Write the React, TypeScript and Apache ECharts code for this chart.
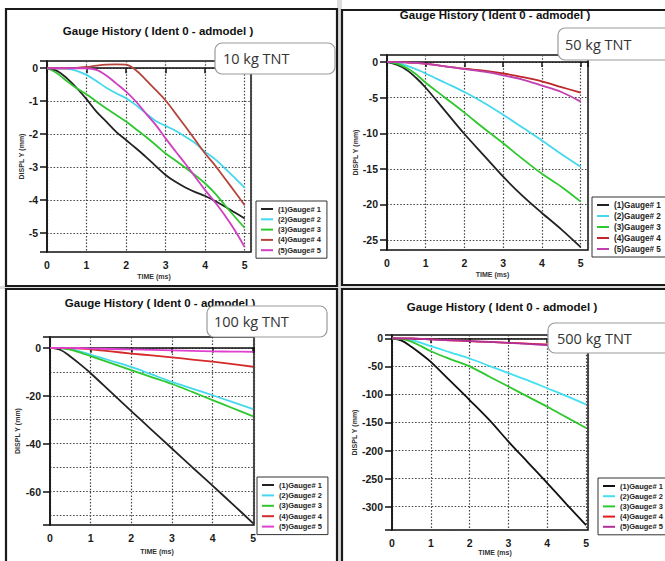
import React, { useEffect, useRef } from 'react';
import * as echarts from 'echarts';

// ---------- data ----------
const TIME_FINE = [0, 0.25, 0.5, 0.75, 1, 1.25, 1.5, 1.75, 2, 2.25, 2.5, 2.75, 3, 3.25, 3.5, 3.75, 4, 4.25, 4.5, 4.75, 5];
const TIME = [0, 0.25, 0.5, 0.75, 1, 1.5, 2, 2.5, 3, 3.5, 4, 4.5, 5];

const GAUGE_NAMES = ['(1)Gauge# 1', '(2)Gauge# 2', '(3)Gauge# 3', '(4)Gauge# 4', '(5)Gauge# 5'];
const TITLE = 'Gauge History ( Ident 0 - admodel )';
const TNT_LABELS = ['10 kg TNT', '50 kg TNT', '100 kg TNT', '500 kg TNT'];
const X_NAME = 'TIME (ms)';
const Y_NAME = 'DISPL Y (mm)';

// 10 kg TNT (TIME_FINE)
const p1g1 = [0, -0.08, -0.3, -0.6, -0.94, -1.32, -1.62, -1.93, -2.18, -2.43, -2.69, -2.97, -3.24, -3.45, -3.62, -3.76, -3.88, -4.03, -4.2, -4.38, -4.56];
const p1g2 = [0, 0, -0.01, -0.08, -0.2, -0.39, -0.59, -0.76, -0.91, -1.12, -1.37, -1.6, -1.75, -1.9, -2.08, -2.28, -2.54, -2.76, -3.04, -3.33, -3.63];
const p1g3 = [0, -0.15, -0.39, -0.61, -0.79, -1.01, -1.22, -1.42, -1.62, -1.85, -2.08, -2.33, -2.59, -2.8, -3.02, -3.25, -3.5, -3.8, -4.16, -4.51, -4.85];
const p1g4 = [0, 0, 0, 0.01, 0.04, 0.08, 0.11, 0.12, 0.11, -0.06, -0.35, -0.66, -0.98, -1.37, -1.77, -2.18, -2.59, -2.95, -3.35, -3.75, -4.16];
const p1g5 = [0, 0, 0, 0, 0, -0.05, -0.22, -0.46, -0.71, -1.01, -1.37, -1.72, -2.13, -2.52, -2.9, -3.3, -3.7, -4.07, -4.47, -4.92, -5.43];

// 50 kg TNT (TIME)
const p2g1 = [0, -0.37, -1.06, -2.2, -3.6, -6.85, -10.1, -13.1, -16.1, -18.8, -21.2, -23.5, -26.0];
const p2g2 = [0, -0.1, -0.5, -1.0, -1.6, -2.9, -4.2, -5.7, -7.4, -9.2, -11.0, -12.9, -14.7];
const p2g3 = [0, -0.2, -0.8, -1.7, -2.9, -5.0, -7.1, -9.3, -11.4, -13.6, -15.7, -17.5, -19.6];
const p2g4 = [0, 0, -0.05, -0.12, -0.23, -0.6, -0.93, -1.2, -1.6, -2.1, -2.7, -3.5, -4.3];
const p2g5 = [0, 0, -0.05, -0.12, -0.25, -0.6, -0.97, -1.35, -1.85, -2.45, -3.3, -4.2, -5.55];

// 100 kg TNT (TIME)
const p3g1 = [0, -0.8, -3.6, -7.0, -10.6, -18.5, -26.4, -34.2, -42.0, -49.8, -57.5, -65.3, -73.2];
const p3g2 = [0, -0.1, -0.6, -1.6, -2.9, -5.4, -8.0, -11.1, -14.2, -17.0, -19.8, -22.7, -25.6];
const p3g3 = [0, -0.1, -0.8, -2.0, -3.5, -6.4, -9.3, -12.2, -15.1, -18.4, -21.8, -25.2, -28.6];
const p3g4 = [0, 0, -0.1, -0.3, -0.6, -1.5, -2.4, -3.2, -4.0, -4.9, -5.8, -6.8, -7.9];
const p3g5 = [0, 0, 0, -0.1, -0.3, -0.5, -0.7, -0.9, -1.1, -1.3, -1.5, -1.6, -1.7];

// 500 kg TNT (TIME)
const p4g1 = [0, -4, -15, -28, -42, -76, -110, -145, -184, -221, -258, -296, -333];
const p4g2 = [0, -0.5, -3, -8, -14, -25, -36, -49, -62, -75, -89, -103, -118];
const p4g3 = [0, -1, -6, -14, -23, -37, -50, -68, -86, -104, -122, -141, -160];
const p4g4 = [0, 0, -0.3, -1, -2, -3.5, -5, -6.5, -8, -9.5, -11, -13, -15];
const p4g5 = [0, 0, -0.3, -1, -2, -3.5, -5, -6.5, -8, -10, -12, -14, -16];

// ---------- styles / layout ----------
const COLORS = [
  ['#222222', '#44d8ee', '#2ec82e', '#b5443c', '#cf3fbf'],
  ['#222222', '#44d8ee', '#2ec82e', '#c02828', '#c040b0'],
  ['#222222', '#44d8ee', '#2ec82e', '#d42a2a', '#e040d0'],
  ['#111111', '#44e0f0', '#2ec82e', '#e01c1c', '#b0309a'],
];

const PANELS = [
  {
    time: TIME_FINE, values: [p1g1, p1g2, p1g3, p1g4, p1g5], tnt: TNT_LABELS[0],
    grid: { left: 47, top: 61, width: 204, height: 191 }, xMax: 5.16, yMin: -5.58, yMax: 0.22, yStep: 1, labelStep: 1,
    yNameGap: 22, xNameGap: 21, legend: { left: 256, top: 201, gap: 2.3, font: 7.5 },
    frame: { x: 6, y: 9, w: 331, h: 277 }, title: { x: 158, y: 31 }, box: { x: 215, y: 43, w: 120, h: 31, tx: 223 },
  },
  {
    time: TIME, values: [p2g1, p2g2, p2g3, p2g4, p2g5], tnt: TNT_LABELS[1],
    grid: { left: 387, top: 55, width: 201, height: 195 }, xMax: 5.19, yMin: -26.4, yMax: 1.0, yStep: 5, labelStep: 5,
    yNameGap: 27, xNameGap: 21, legend: { left: 592, top: 197, gap: 3, font: 8.2 },
    frame: { x: 342, y: 10, w: 340, h: 275 }, title: { x: 495, y: 15 }, box: { x: 558, y: 28, w: 140, h: 32, tx: 565 },
  },
  {
    time: TIME, values: [p3g1, p3g2, p3g3, p3g4, p3g5], tnt: TNT_LABELS[2],
    grid: { left: 50, top: 337, width: 204, height: 188 }, xMax: 5.02, yMin: -73.9, yMax: 4.5, yStep: 10, labelStep: 20,
    yNameGap: 29, xNameGap: 23, legend: { left: 257, top: 477, gap: 2.4, font: 7.5 },
    frame: { x: 6, y: 289, w: 331, h: 290 }, title: { x: 160, y: 303 }, box: { x: 207, y: 306, w: 120, h: 31, tx: 214 },
  },
  {
    time: TIME, values: [p4g1, p4g2, p4g3, p4g4, p4g5], tnt: TNT_LABELS[3],
    grid: { left: 392, top: 335, width: 196, height: 195 }, xMax: 5.05, yMin: -341.7, yMax: 5.9, yStep: 50, labelStep: 50,
    yNameGap: 33, xNameGap: 19, legend: { left: 598, top: 478, gap: 2.2, font: 7.5 },
    frame: { x: 342, y: 289, w: 340, h: 290 }, title: { x: 502, y: 307 }, box: { x: 548, y: 323, w: 150, h: 30, tx: 557 },
  },
];

const AXIS_COLOR = '#111';
const FONT = "'Liberation Sans', Arial, sans-serif";

function isMultiple(v: number, step: number) {
  const r = v / step;
  return Math.abs(r - Math.round(r)) < 1e-6;
}

function buildOption() {
  const grid: any[] = [];
  const xAxis: any[] = [];
  const yAxis: any[] = [];
  const series: any[] = [];
  const legend: any[] = [];
  const graphic: any[] = [];

  // light gray gutters between the four screenshots
  graphic.push({ type: 'rect', shape: { x: 337, y: 0, width: 5, height: 561 }, style: { fill: '#dcdcdc' }, z: 0, silent: true });
  graphic.push({ type: 'rect', shape: { x: 0, y: 286, width: 665, height: 3 }, style: { fill: '#dcdcdc' }, z: 0, silent: true });

  PANELS.forEach((p, i) => {
    grid.push({ ...p.grid, show: true, borderColor: AXIS_COLOR, borderWidth: 1.5, backgroundColor: 'transparent', containLabel: false });

    xAxis.push({
      type: 'value', gridIndex: i, min: 0, max: p.xMax, interval: 1,
      name: X_NAME, nameLocation: 'middle', nameGap: p.xNameGap,
      nameTextStyle: { fontSize: 7, fontWeight: 'bold', color: '#333', fontFamily: FONT, padding: [0, 0, 0, 10] },
      axisLine: { show: true, lineStyle: { color: AXIS_COLOR, width: 1.5 } },
      axisTick: { show: true, length: 5, lineStyle: { color: AXIS_COLOR, width: 1.5 } },
      axisLabel: {
        margin: 7, fontSize: 10.5, fontWeight: 'bold', color: '#1a1a1a', fontFamily: FONT,
        formatter: (v: number) => (isMultiple(v, 1) ? String(v) : ''),
      },
      splitLine: { show: true, lineStyle: { color: '#444', width: 1.2, type: [1.5, 1.8] } },
    });

    // axis for grid lines
    yAxis.push({
      type: 'value', gridIndex: i, position: 'left', min: p.yMin, max: p.yMax,
      minInterval: p.yStep, maxInterval: p.yStep, splitNumber: 6,
      axisLine: { show: true, lineStyle: { color: AXIS_COLOR, width: 1.5 } },
      axisTick: { show: false },
      axisLabel: { show: false },
      splitLine: { show: true, lineStyle: { color: '#444', width: 1.2, type: [1.5, 1.8] } },
    });
    // axis for labels
    yAxis.push({
      type: 'value', gridIndex: i, position: 'left', offset: 0, min: p.yMin, max: p.yMax,
      minInterval: p.labelStep, maxInterval: p.labelStep, splitNumber: 6,
      name: Y_NAME, nameLocation: 'middle', nameGap: p.yNameGap,
      nameTextStyle: { fontSize: 7, fontWeight: 'bold', color: '#333', fontFamily: FONT },
      axisLine: { show: false },
      axisTick: { show: true, length: 7, lineStyle: { color: AXIS_COLOR, width: 1.5 } },
      axisLabel: {
        margin: 9, fontSize: 10.5, fontWeight: 'bold', color: '#1a1a1a', fontFamily: FONT,
        formatter: (v: number) => (isMultiple(v, p.labelStep) ? String(Math.round(v)) : ''),
      },
      splitLine: { show: false },
    });

    const names: string[] = [];
    p.values.forEach((vals, k) => {
      const name = `p${i + 1}|${GAUGE_NAMES[k]}`;
      names.push(name);
      series.push({
        type: 'line', name, xAxisIndex: i, yAxisIndex: 2 * i,
        data: p.time.map((t, j) => [t, vals[j]]),
        showSymbol: false, symbol: 'none', smooth: 0.35,
        lineStyle: { color: COLORS[i][k], width: 1.8 },
        itemStyle: { color: COLORS[i][k] },
        z: 3, clip: true,
      });
    });

    legend.push({
      data: names, orient: 'vertical', left: p.legend.left, top: p.legend.top,
      icon: 'rect', itemWidth: 12, itemHeight: 2, itemGap: p.legend.gap,
      padding: [4, 6, 4, 5], backgroundColor: '#fff', borderColor: '#333', borderWidth: 1, borderRadius: 0,
      selectedMode: false,
      formatter: (n: string) => n.split('|')[1],
      textStyle: { fontSize: p.legend.font, lineHeight: 8, fontWeight: 'bold', color: '#222', fontFamily: FONT },
    });

    // frame (outline only)
    graphic.push({
      type: 'rect', shape: { x: p.frame.x, y: p.frame.y, width: p.frame.w, height: p.frame.h },
      style: { fill: 'none', stroke: '#1a1a1a', lineWidth: 2.2 }, z: 1, silent: true,
    });
    // title
    graphic.push({
      type: 'text', x: p.title.x, y: p.title.y, z: 5,
      style: { text: TITLE, fontSize: 11.5, fontWeight: 'bold', fontFamily: FONT, fill: '#111', textAlign: 'center', textVerticalAlign: 'middle' },
    });
    // TNT box
    graphic.push({
      type: 'rect', shape: { x: p.box.x, y: p.box.y, width: p.box.w, height: p.box.h, r: 7 },
      style: { fill: '#fff', stroke: '#9a9a9a', lineWidth: 1.2 }, z: 100,
    });
    graphic.push({
      type: 'text', x: p.box.tx, y: p.box.y + p.box.h / 2, z: 101,
      style: { text: p.tnt, fontSize: 14.5, fontFamily: "'Open Sans', sans-serif", fill: '#333', textAlign: 'left', textVerticalAlign: 'middle' },
    });
  });

  return {
    animation: false,
    backgroundColor: '#fff',
    textStyle: { fontFamily: FONT },
    grid, xAxis, yAxis, series, legend, graphic,
  };
}

export default function App() {
  const ref = useRef<HTMLDivElement>(null);
  useEffect(() => {
    if (!ref.current) return;
    const chart = echarts.init(ref.current, null, { renderer: 'svg' });
    chart.setOption(buildOption() as any);
    return () => chart.dispose();
  }, []);
  return (
    <div style={{ position: 'fixed', left: 0, top: 0, width: 665, height: 561, background: '#fff' }}>
      <div ref={ref} style={{ width: 665, height: 561 }} />
    </div>
  );
}
